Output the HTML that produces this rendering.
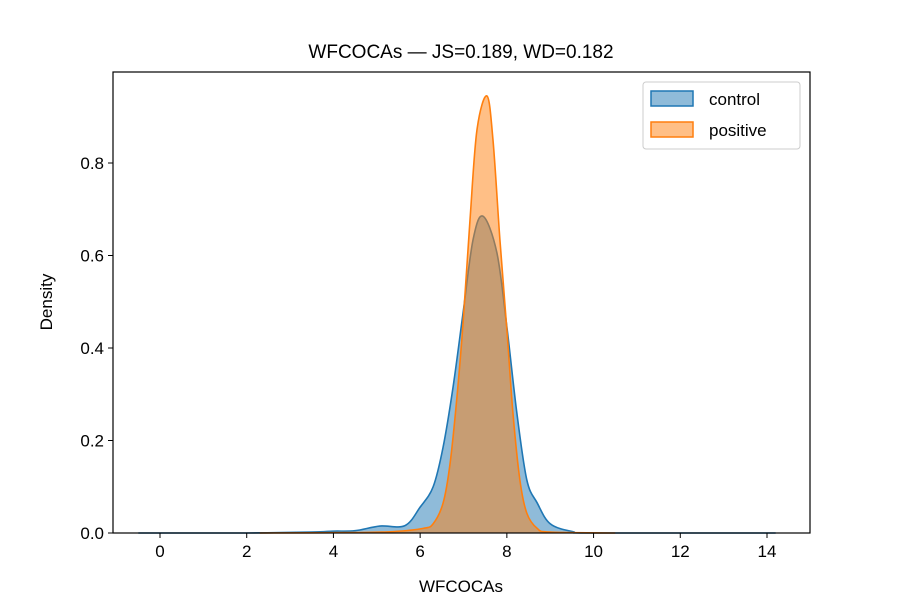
<!DOCTYPE html>
<html><head><meta charset="utf-8"><style>body{margin:0;background:#fff}svg{display:block;font-family:"Liberation Sans","DejaVu Sans",sans-serif}</style></head>
<body>
<svg id="chart" width="900" height="600">
<rect width="900" height="600" fill="#fff"/>
<text x="461" y="58" font-size="19" text-anchor="middle">WFCOCAs — JS=0.189, WD=0.182</text>
<g id="plot"></g>
<rect x="113" y="72" width="697" height="461" fill="none" stroke="#000" stroke-width="1.2"/>
<g id="axes"></g>
<text x="461" y="592" font-size="17" text-anchor="middle">WFCOCAs</text>
<text x="52" y="302" font-size="17" text-anchor="middle" transform="rotate(-90 52 302)">Density</text>
<g>
<rect x="643" y="82" width="157" height="67" rx="3" fill="#fff" fill-opacity="0.8" stroke="#ccc"/>
<g>
<rect x="651" y="91" width="42" height="15" fill="#1f77b4" fill-opacity="0.5" stroke="#1f77b4" stroke-width="1.5"/>
<text x="709" y="105" font-size="17">control</text></g>
<g>
<rect x="651" y="122" width="42" height="15" fill="#ff7f0e" fill-opacity="0.5" stroke="#ff7f0e" stroke-width="1.5"/>
<text x="709" y="136" font-size="17">positive</text></g>
</g>
</svg>
<script>
const xTicks=[0,2,4,6,8,10,12,14];
const yTicks=[0.0,0.2,0.4,0.6,0.8];
const controlX=[-0.5,2,3.5,4.0,4.5,5.07,5.65,6.0,6.3,6.53,6.76,6.99,7.22,7.45,7.77,8.0,8.23,8.46,8.7,9.0,9.52,10.0,14.2];
const controlY=[0,0,0.002,0.004,0.005,0.015,0.016,0.056,0.1,0.186,0.316,0.476,0.634,0.685,0.606,0.446,0.26,0.115,0.065,0.02,0.003,0,0];
const positiveX=[2.3,4.5,5.37,6.07,6.3,6.53,6.69,6.85,6.99,7.15,7.31,7.54,7.68,7.84,8.0,8.14,8.3,8.46,8.7,9.0,10.5];
const positiveY=[0,0.001,0.003,0.01,0.02,0.065,0.15,0.295,0.454,0.677,0.871,0.945,0.85,0.634,0.44,0.26,0.115,0.043,0.01,0.002,0];
const X=v=>160+v*43.357, Y=v=>533-v*462.5;
const NS='http://www.w3.org/2000/svg';
function path(xs,ys){
 const p=xs.map((x,i)=>[X(x),Y(ys[i])]);
 let d='M'+p[0][0]+','+p[0][1];
 for(let i=0;i<p.length-1;i++){
  const p0=p[Math.max(0,i-1)],p1=p[i],p2=p[i+1],p3=p[Math.min(p.length-1,i+2)];
  let c1y=p1[1]+(p2[1]-p0[1])/6,c2y=p2[1]-(p3[1]-p1[1])/6;
  c1y=Math.min(c1y,533);c2y=Math.min(c2y,533);
  d+=` C${p1[0]+(p2[0]-p0[0])/6},${c1y} ${p2[0]-(p3[0]-p1[0])/6},${c2y} ${p2[0]},${p2[1]}`;
 }
 return d;
}
const plot=document.getElementById('plot');
[[controlX,controlY,'#1f77b4','control'],[positiveX,positiveY,'#ff7f0e','positive']].forEach(([xs,ys,c,n])=>{
 const d=path(xs,ys);
 const f=document.createElementNS(NS,'path');
 f.setAttribute('d',d+` L${X(xs[xs.length-1])},533 L${X(xs[0])},533 Z`);
 f.setAttribute('fill',c);f.setAttribute('fill-opacity','0.5');
 
 
 plot.appendChild(f);
 const l=document.createElementNS(NS,'path');
 l.setAttribute('d',d);l.setAttribute('fill','none');l.setAttribute('stroke',c);l.setAttribute('stroke-width','1.6');
 
 
 plot.appendChild(l);
});
const ax=document.getElementById('axes');
xTicks.forEach(t=>{
 const g=document.createElementNS(NS,'g');
 
 
 g.innerHTML=`<line x1="${X(t)}" x2="${X(t)}" y1="533" y2="538" stroke="#000"/><text x="${X(t)}" y="557" font-size="17" text-anchor="middle">${t}</text>`;
 ax.appendChild(g);
});
yTicks.forEach(t=>{
 const g=document.createElementNS(NS,'g');
 
 
 g.innerHTML=`<line x1="108" x2="113" y1="${Y(t)}" y2="${Y(t)}" stroke="#000"/><text x="104" y="${Y(t)+6}" font-size="17" text-anchor="end">${t.toFixed(1)}</text>`;
 ax.appendChild(g);
});
</script>
</body></html>
